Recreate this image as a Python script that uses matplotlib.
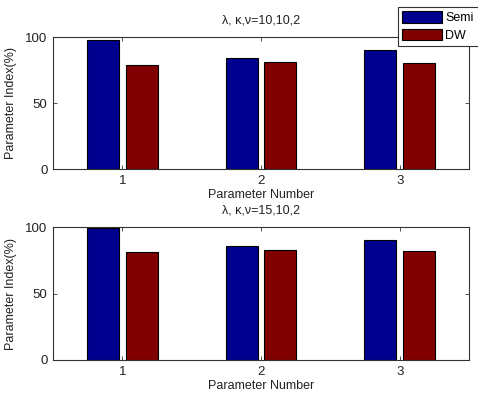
import numpy as np
import matplotlib
matplotlib.use("Agg")
import matplotlib.pyplot as plt

plt.rcParams['font.family'] = ['Liberation Sans', 'DejaVu Sans']

params = [1, 2, 3]
series_names = ["Semi", "DW"]
titles = ["λ, κ,ν=10,10,2", "λ, κ,ν=15,10,2"]
semi_top = [98, 84, 90]
dw_top = [79, 81, 80]
semi_bottom = [99, 86, 90]
dw_bottom = [81, 83, 82]
y_ticks = [0, 50, 100]

colors = ["#00008F", "#800000"]
W, H = 478, 395
fig = plt.figure(figsize=(W / 100, H / 100), dpi=100)

def px_axes(x0, y0, x1, y1):
    return fig.add_axes([x0 / W, 1 - y1 / H, (x1 - x0) / W, (y1 - y0) / H])

panels = [
    (px_axes(53, 37, 469, 169), semi_top, dw_top, titles[0]),
    (px_axes(53, 227, 469, 360), semi_bottom, dw_bottom, titles[1]),
]

x = np.array(params, dtype=float)
width = 0.23
handles = None
for ax, semi, dw, title in panels:
    b1 = ax.bar(x - 0.14, semi, width, color=colors[0], edgecolor="black", linewidth=0.8)
    b2 = ax.bar(x + 0.14, dw, width, color=colors[1], edgecolor="black", linewidth=0.8)
    handles = [b1, b2]
    ax.set_xlim(0.5, 3.5)
    ax.set_ylim(0, 100)
    ax.set_xticks(params)
    ax.set_yticks(y_ticks)
    ax.tick_params(direction="in", length=3, width=0.6, top=True, right=True,
                   labelsize=9.5, colors="#333333", labelcolor="#222222", pad=4)
    for s in ax.spines.values():
        s.set_linewidth(0.8)
        s.set_color("#333333")
    ax.set_title(title, fontsize=9, pad=10, color="#222222")
    ax.set_xlabel("Parameter Number", fontsize=9, labelpad=2, color="#222222")
    ax.set_ylabel("Parameter Index(%)", fontsize=9, labelpad=6, color="#222222")

# legend frame runs off the right edge of the figure
leg = fig.legend(handles, series_names, loc="upper left", mode="expand",
                 bbox_to_anchor=(398 / W, 1 - 7 / H, 95 / W, 0.0), borderaxespad=0,
                 fontsize=9, handlelength=3.2, handleheight=1.05, handletextpad=0.25,
                 borderpad=0.35, labelspacing=0.35, fancybox=False,
                 framealpha=1, edgecolor="#333333")
leg.get_frame().set_linewidth(0.8)

fig.savefig("out.png", dpi=100)
